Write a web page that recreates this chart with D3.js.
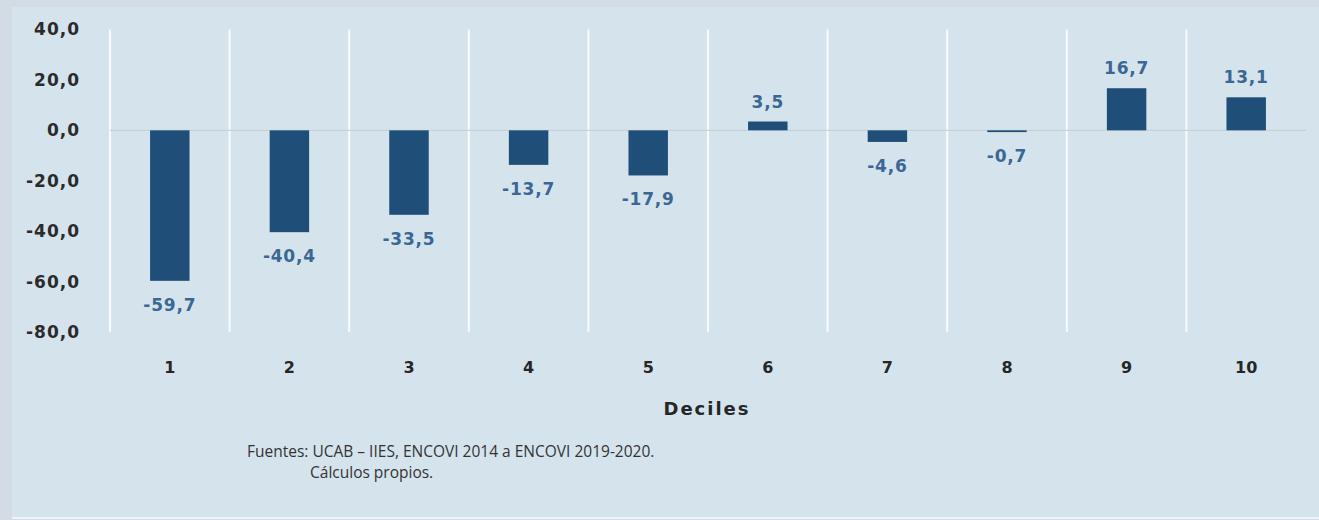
<!DOCTYPE html>
<html><head><meta charset="utf-8">
<script src="https://cdn.jsdelivr.net/npm/d3@7"></script>
<style>
html,body{margin:0;padding:0;background:#d3dbe5;}
svg{display:block;}
</style></head>
<body>
<svg id="chart" width="1319" height="520"></svg>
<script>
const categories = ["1","2","3","4","5","6","7","8","9","10"];
const values = [-59.7, -40.4, -33.5, -13.7, -17.9, 3.5, -4.6, -0.7, 16.7, 13.1];
const yTicks = [40, 20, 0, -20, -40, -60, -80];
const xTitle = "Deciles";
const sourceLines = ["Fuentes: UCAB \u2013 IIES, ENCOVI 2014 a ENCOVI 2019-2020.", "C\u00e1lculos propios."];

const svg = d3.select("#chart");
const W = 1319, H = 520;

svg.append("rect").attr("x",0).attr("y",0).attr("width",W).attr("height",H).attr("fill","#d3dbe5");
svg.append("rect").attr("x",12).attr("y",7).attr("width",W-12).attr("height",511).attr("fill","#d5e4ec");
svg.append("rect").attr("x",12).attr("y",517).attr("width",W-12).attr("height",2).attr("fill","#eef3f6");

const loc = d3.formatLocale({decimal:",", thousands:".", grouping:[3], currency:["",""], minus:"-"});
const fmt = loc.format(".1f");

const x = d3.scaleBand().domain(categories).range([110, 1306]).padding(0);
const y = d3.scaleLinear().domain([-80, 40]).range([332, 29.5]);

// vertical gridlines at band starts
svg.append("g").selectAll("line").data(categories).join("line")
  .attr("x1", d => x(d)).attr("x2", d => x(d))
  .attr("y1", y(40)).attr("y2", y(-80))
  .attr("stroke", "#ffffff").attr("stroke-width", 2).attr("opacity", 0.85);

// zero line
svg.append("line").attr("x1", 110).attr("x2", 1306).attr("y1", y(0)).attr("y2", y(0))
  .attr("stroke", "#c8d2d6").attr("stroke-width", 1.2);

// y axis
const yAxis = d3.axisLeft(y).tickValues(yTicks).tickFormat(fmt).tickSize(0).tickPadding(0);
const gy = svg.append("g").attr("transform", "translate(80,0)").call(yAxis);
gy.select(".domain").remove();
gy.selectAll("text").attr("font-family", "DejaVu Sans, Verdana, sans-serif")
  .attr("font-weight", "bold").attr("font-size", "17px").attr("fill", "#2b2b2b")
  .attr("letter-spacing", "1px").attr("x", 0);

// x axis
const xAxis = d3.axisBottom(x).tickSize(0).tickPadding(0);
const gx = svg.append("g").attr("transform", "translate(0,362)").call(xAxis);
gx.select(".domain").remove();
gx.selectAll("text").attr("font-family", "DejaVu Sans, Verdana, sans-serif")
  .attr("font-weight", "bold").attr("font-size", "16px").attr("fill", "#262626").attr("dy", "0.71em");

// bars
const bw = x.bandwidth() * 0.33;
svg.append("g").selectAll("rect").data(values).join("rect")
  .attr("x", (d,i) => x(categories[i]) + x.bandwidth()/2 - bw/2)
  .attr("y", d => d >= 0 ? y(d) : y(0))
  .attr("width", bw)
  .attr("height", d => Math.max(1.5, Math.abs(y(d) - y(0))))
  .attr("fill", "#1f4e79");

// data labels
svg.append("g").selectAll("text").data(values).join("text")
  .attr("x", (d,i) => x(categories[i]) + x.bandwidth()/2)
  .attr("y", d => d >= 0 ? y(d) - 14 : Math.max(y(d), y(0)+2) + 30)
  .attr("text-anchor", "middle")
  .attr("font-family", "DejaVu Sans, Verdana, sans-serif")
  .attr("font-weight", "bold").attr("font-size", "17px").attr("fill", "#3a6794")
  .attr("letter-spacing", "0.8px")
  .text(d => fmt(d));

// x title
svg.append("text").attr("x", 707).attr("y", 415).attr("text-anchor", "middle")
  .attr("font-family", "DejaVu Sans, sans-serif").attr("font-weight", "bold")
  .attr("font-size", "18px").attr("letter-spacing", "2px").attr("fill", "#262626").text(xTitle);

// source
svg.append("text").attr("x", 247).attr("y", 457)
  .attr("font-family", "Open Sans, sans-serif").attr("font-size", "15.5px").attr("fill", "#333333")
  .text(sourceLines[0]);
svg.append("text").attr("x", 310).attr("y", 478)
  .attr("font-family", "Open Sans, sans-serif").attr("font-size", "15.5px").attr("fill", "#333333")
  .text(sourceLines[1]);
</script>
</body></html>
